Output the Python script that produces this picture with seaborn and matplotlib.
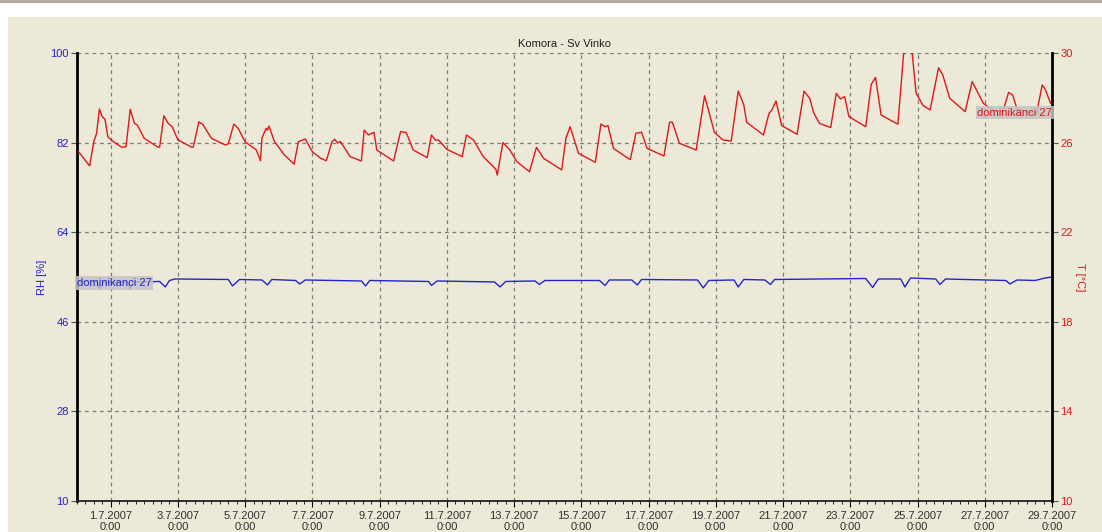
import pandas as pd
import matplotlib
matplotlib.use('Agg')
import matplotlib.pyplot as plt
import matplotlib.dates as mdates
from matplotlib.ticker import FuncFormatter
from matplotlib.lines import Line2D
import seaborn as sns

# time axis starts at 30.6.2007 0:00, times below are hours after that
start = pd.Timestamp('2007-06-30 00:00')
end = pd.Timestamp('2007-07-29 00:00')

title = 'Komora - Sv Vinko'
sensor = 'dominikanci 27'

# temperature [C], red line, right axis
t_hours = [1, 9, 12, 14, 16, 18, 20, 22, 26, 32, 35, 38, 41, 43, 48, 58, 59, 62, 65, 68,
           72, 82, 83, 87, 90, 96, 106, 108, 112, 115, 120, 128, 131, 132, 135, 136, 137, 141, 148, 155,
           158, 163, 168, 174, 178, 182, 184, 186, 188, 195, 203, 205, 208, 212, 214, 226, 231, 235, 240, 250,
           253, 256, 258, 264, 275, 278, 283, 290, 299, 300, 304, 309, 314, 323, 328, 333, 346, 349, 352, 358,
           370, 374, 377, 379, 383, 394, 395, 399, 403, 407, 419, 423, 425, 430, 442, 448, 455, 461, 467, 472,
           476, 478, 490, 494, 496, 499, 503, 514, 519, 523, 526, 530, 538, 542, 545, 548, 551, 563, 567, 570,
           574, 586, 590, 593, 596, 599, 604, 609, 615, 618, 623, 634, 639, 647, 655, 661, 665, 668, 671, 685,
           689, 691, 695]
t_values = [25.6, 24.96, 26.04, 26.42, 27.5, 27.16, 27.04, 26.26, 26.04, 25.79, 25.82, 27.49, 26.86, 26.79, 26.19, 25.79, 25.8, 27.2, 26.86, 26.71,
            26.12, 25.79, 25.8, 26.93, 26.79, 26.19, 25.89, 25.95, 26.83, 26.64, 26.04, 25.67, 25.19, 26.2, 26.64, 26.55, 26.74, 26.04, 25.45, 25.04,
            26.04, 26.16, 25.59, 25.3, 25.19, 26.04, 26.15, 25.98, 26.05, 25.37, 25.18, 26.56, 26.34, 26.46, 25.67, 25.18, 26.49, 26.45, 25.67, 25.33,
            26.34, 26.1, 26.12, 25.7, 25.37, 26.34, 26.12, 25.37, 24.81, 24.55, 26.0, 25.67, 25.15, 24.7, 25.79, 25.3, 24.78, 26.19, 26.71, 25.52,
            25.12, 26.83, 26.7, 26.76, 25.74, 25.27, 25.25, 26.42, 26.46, 25.74, 25.4, 26.91, 26.91, 25.97, 25.67, 28.09, 26.46, 26.12, 26.07, 28.3,
            27.68, 26.91, 26.34, 27.31, 27.45, 27.86, 26.76, 26.37, 28.3, 27.98, 27.31, 26.86, 26.67, 28.2, 27.95, 28.05, 27.16, 26.71, 28.6, 28.91,
            27.23, 26.82, 29.91, 30.6, 30.1, 28.2, 27.65, 27.46, 29.34, 29.02, 27.98, 27.38, 28.72, 27.75, 27.4, 27.4, 28.24, 28.12, 27.5, 27.3,
            28.57, 28.4, 27.75]

# relative humidity [%], blue line, left axis
rh_hours = [0, 14, 16, 19, 36, 38, 40, 59, 63, 66, 70, 108, 111, 116, 132, 136, 139, 156, 159, 163,
            203, 206, 209, 251, 253, 257, 298, 302, 306, 327, 330, 334, 373, 377, 380, 396, 400, 403, 443, 447,
            451, 469, 472, 476, 491, 495, 498, 563, 568, 572, 588, 591, 595, 613, 616, 620, 663, 666, 671, 684,
            691, 696]
rh_values = [54.1, 54.1, 52.6, 54.0, 54.0, 52.6, 54.0, 54.1, 53.0, 54.3, 54.6, 54.5, 53.2, 54.5, 54.4, 53.4, 54.5, 54.3, 53.6, 54.4,
             54.2, 53.2, 54.3, 54.1, 53.3, 54.2, 54.0, 53.0, 54.1, 54.2, 53.5, 54.3, 54.3, 53.3, 54.4, 54.4, 53.4, 54.5, 54.4, 52.8,
             54.3, 54.4, 53.0, 54.5, 54.4, 53.5, 54.5, 54.7, 52.9, 54.6, 54.6, 53.0, 54.8, 54.6, 53.5, 54.6, 54.3, 53.6, 54.4, 54.3,
             54.8, 55.0]

rh_ticks = [10, 28, 46, 64, 82, 100]
t_ticks = [10, 14, 18, 22, 26, 30]

plt.rcParams['font.family'] = ['Liberation Sans', 'DejaVu Sans']

bg = '#ECE9D8'
blue = '#2424C8'
red = '#E01818'
grid_col = '#7A7A7A'

df_t = pd.DataFrame({'time': start + pd.to_timedelta(t_hours, unit='h'), 'T': t_values})
df_rh = pd.DataFrame({'time': start + pd.to_timedelta(rh_hours, unit='h'), 'RH': rh_values})

fig = plt.figure(figsize=(11.02, 5.32), dpi=100)
fig.patch.set_facecolor('white')
# beige window panel and the gray line at the top
fig.add_artist(plt.Rectangle((8 / 1102, 0), 1, (532 - 17) / 532, transform=fig.transFigure,
                             facecolor=bg, edgecolor='none', zorder=-5))
fig.add_artist(Line2D([0, 1], [1 - 1 / 532, 1 - 1 / 532], transform=fig.transFigure,
                      color='#ACA899', lw=2))

ax = fig.add_axes([77 / 1102, 31 / 532, 975 / 1102, 448 / 532])
ax.set_facecolor(bg)
ax2 = ax.twinx()

sns.lineplot(data=df_rh, x='time', y='RH', ax=ax, color=blue, lw=1)
sns.lineplot(data=df_t, x='time', y='T', ax=ax2, color=red, lw=1)

ax.set_xlim(start, end)
ax.set_ylim(10, 100)
ax2.set_ylim(10, 30)
ax.set_yticks(rh_ticks)
ax2.set_yticks(t_ticks)

# x ticks every 2 days, minor every 6 hours
ax.xaxis.set_major_locator(mdates.DayLocator(bymonthday=range(1, 32, 2)))
ax.xaxis.set_minor_locator(mdates.HourLocator(byhour=range(0, 24, 6)))

def fmt_date(x, pos):
    d = mdates.num2date(x)
    return f'{d.day}.{d.month}.{d.year}\n{d.hour}:{d.minute:02d}'

ax.xaxis.set_major_formatter(FuncFormatter(fmt_date))

ax.grid(True, which='major', color=grid_col, ls=(0, (3, 3)), lw=0.9)
ax.set_axisbelow(True)

ax.tick_params(axis='x', which='major', length=4, pad=3, labelsize=8, labelcolor='#303030')
ax.tick_params(axis='x', which='minor', length=2)
ax.tick_params(axis='y', length=4, pad=2, labelsize=8, labelcolor=blue, color='#555555')
ax2.tick_params(axis='y', length=4, pad=2, labelsize=8, labelcolor=red, color='#555555')

for s in ['top']:
    ax.spines[s].set_visible(False)
    ax2.spines[s].set_visible(False)
ax.spines['left'].set_linewidth(2)
ax.spines['left'].set_color('black')
ax2.spines['right'].set_linewidth(2)
ax2.spines['right'].set_color('black')
ax.spines['bottom'].set_color('#202020')
ax.spines['bottom'].set_linewidth(1.3)
ax2.spines['left'].set_visible(False)
ax2.spines['bottom'].set_visible(False)
ax.spines['right'].set_visible(False)

ax.set_xlabel('')
ax.set_ylabel('RH [%]', color=blue, fontsize=8)
ax.yaxis.set_label_coords(-0.031, 0.5)
ax2.set_ylabel('T [°C]', color=red, fontsize=8, rotation=-90, va='center')
ax2.yaxis.set_label_coords(1.029, 0.5)

ax.set_title(title, fontsize=8, pad=4, color='#202020')

# series labels at both ends of the lines
box = dict(boxstyle='square,pad=0.15', facecolor='#C4C4C4', edgecolor='none', alpha=0.85)
ax.text(start, 53.8, sensor, color=blue, fontsize=8, ha='left', va='center', bbox=box, zorder=5)
ax2.text(end, 27.34, sensor, color=red, fontsize=8, ha='right', va='center', bbox=box, zorder=5)

fig.savefig('out.png', dpi=100, facecolor=fig.get_facecolor())
